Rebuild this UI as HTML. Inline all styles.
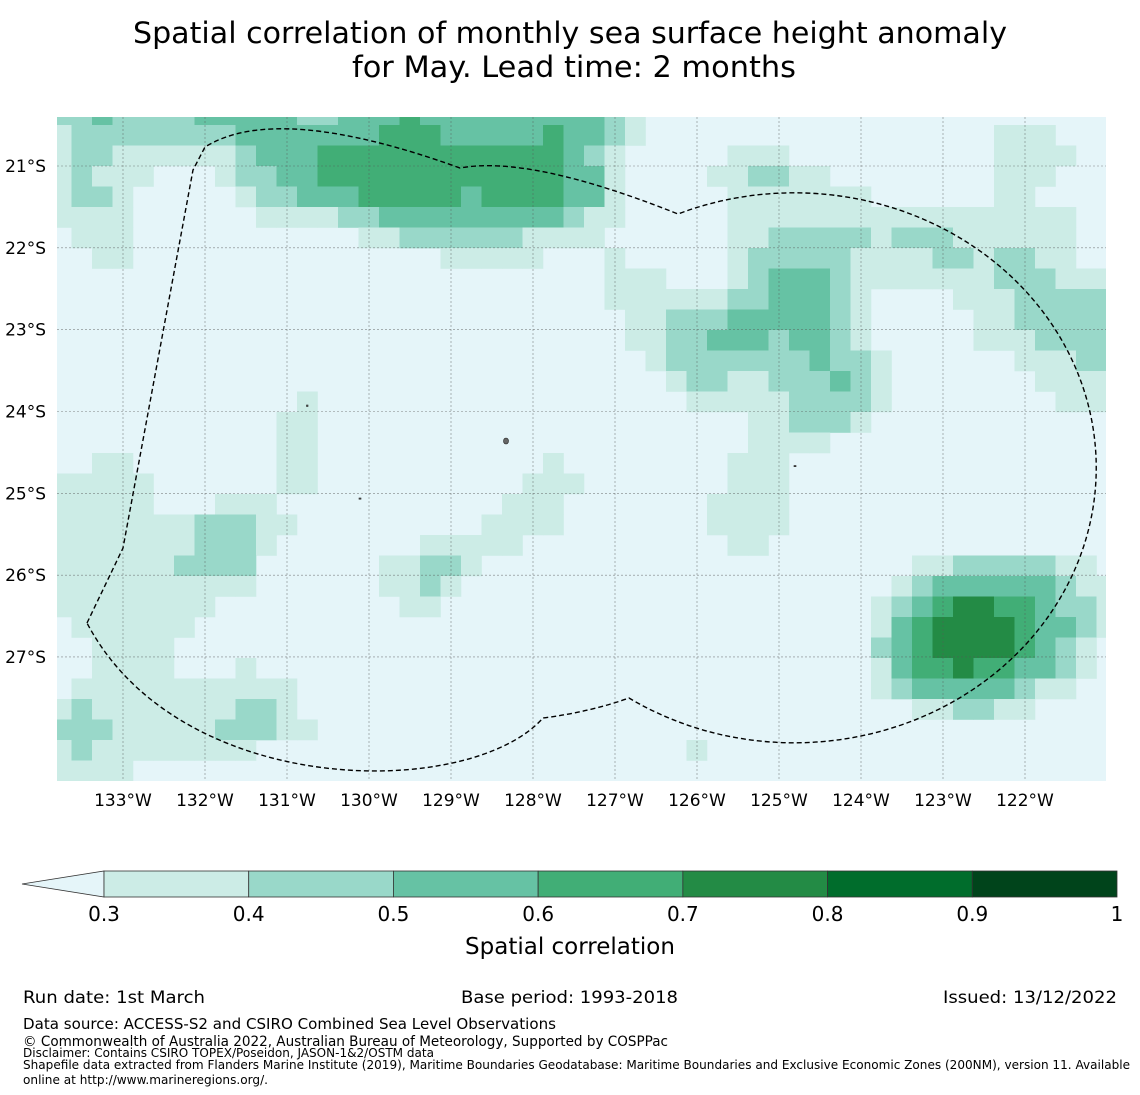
<!DOCTYPE html>
<html><head><meta charset="utf-8">
<style>
html,body{margin:0;padding:0;background:#fff;}
svg{display:block;font-family:"DejaVu Sans","Liberation Sans",sans-serif;}
</style></head>
<body>
<svg id="chart" width="1140" height="1095" viewBox="0 0 1140 1095" xmlns="http://www.w3.org/2000/svg">
  <defs><clipPath id="mapclip"><rect x="57" y="117" width="1049" height="664"/></clipPath></defs>
  <g>
    <text x="570" y="43" text-anchor="middle" font-size="29" textLength="874" lengthAdjust="spacingAndGlyphs">Spatial correlation of monthly sea surface height anomaly</text>
    <text x="574" y="77" text-anchor="middle" font-size="29" textLength="444" lengthAdjust="spacingAndGlyphs">for May. Lead time: 2 months</text>
  </g>
  <g id="cells" clip-path="url(#mapclip)"></g>
  <g id="grid" clip-path="url(#mapclip)"></g>
  <path clip-path="url(#mapclip)" d="M87,623 L123,548 L193,170 L205,147 Q277,102 460,168 Q530,155 678,214 A302,275 0 1 1 629,698 Q590,712 543,718 C470,800 180,800 87,623 Z" fill="none" stroke="#000" stroke-width="1.4" stroke-dasharray="5,3"/>
  <g fill="#666" stroke="#222" stroke-width="0.6">
    <ellipse cx="506" cy="441" rx="2.5" ry="3"/>
    <rect x="306.5" y="405" width="1.5" height="1.5"/>
    <rect x="359" y="498" width="2" height="1.2"/>
    <rect x="794" y="465.5" width="2" height="1.2"/>
  </g>
  <g id="xticks" font-size="17"></g>
  <g id="yticks" font-size="17"></g>
  <g id="cbar"></g>
  <text x="570" y="954" text-anchor="middle" font-size="23">Spatial correlation</text>
  <g fill="#000">
    <text x="23" y="1003" font-size="17" textLength="182" lengthAdjust="spacingAndGlyphs">Run date: 1st March</text>
    <text x="461" y="1003" font-size="17" textLength="217" lengthAdjust="spacingAndGlyphs">Base period: 1993-2018</text>
    <text x="1117" y="1003" font-size="17" text-anchor="end" textLength="174" lengthAdjust="spacingAndGlyphs">Issued: 13/12/2022</text>
    <text x="23" y="1029" font-size="15" textLength="533" lengthAdjust="spacingAndGlyphs">Data source: ACCESS-S2 and CSIRO Combined Sea Level Observations</text>
    <text x="23" y="1046" font-size="14" textLength="645" lengthAdjust="spacingAndGlyphs">© Commonwealth of Australia 2022, Australian Bureau of Meteorology, Supported by COSPPac</text>
    <text x="23" y="1057" font-size="12" textLength="411" lengthAdjust="spacingAndGlyphs">Disclaimer: Contains CSIRO TOPEX/Poseidon, JASON-1&amp;2/OSTM data</text>
    <text x="23" y="1069" font-size="12" textLength="1107" lengthAdjust="spacingAndGlyphs">Shapefile data extracted from Flanders Marine Institute (2019), Maritime Boundaries Geodatabase: Maritime Boundaries and Exclusive Economic Zones (200NM), version 11. Available</text>
    <text x="23" y="1084" font-size="12" textLength="245" lengthAdjust="spacingAndGlyphs">online at http://www.marineregions.org/.</text>
  </g>
</svg>
<script>
// correlation class per cell, run-length encoded "level:count", rows north to south, 52 columns each
const rowRuns = [
"2:2,3:1,2:4,3:5,2:2,3:3,4:1,3:9,2:1,1:1,0:23",
"1:1,2:8,3:7,4:3,3:5,4:1,3:2,2:1,1:1,0:17,1:3,0:3",
"1:1,2:2,1:6,2:1,3:3,4:12,3:1,2:1,1:1,0:5,1:3,0:10,1:4,0:2",
"1:1,2:1,1:3,0:3,1:1,2:2,3:2,4:12,3:2,1:1,0:4,1:2,2:2,1:2,0:8,1:3,0:3",
"1:1,2:2,1:1,0:5,1:1,2:2,3:3,4:5,3:1,4:4,3:2,1:1,0:5,1:7,0:6,1:2,0:4",
"1:4,0:6,1:4,2:2,3:9,2:1,1:2,0:5,1:17,0:2",
"0:1,1:3,0:11,1:2,2:6,1:4,0:6,1:2,2:5,1:1,2:3,1:6,0:2",
"0:2,1:2,0:15,1:5,0:3,1:1,0:5,1:1,2:5,1:4,2:2,1:1,2:2,1:2,0:2",
"0:27,1:3,0:3,1:1,2:1,3:3,2:1,1:7,2:3,1:3",
"0:27,1:6,2:2,3:3,2:1,1:1,0:4,1:3,2:5",
"0:28,1:2,2:3,3:5,2:1,1:1,0:5,1:2,2:5",
"0:28,1:2,2:2,3:3,2:1,3:2,2:1,1:1,0:5,1:3,2:4",
"0:29,1:1,2:7,3:1,2:2,1:1,0:6,1:3,2:2",
"0:30,1:1,2:2,1:2,2:3,3:1,2:1,1:1,0:7,1:4",
"0:12,1:1,0:18,1:5,2:4,1:1,0:8,1:3",
"0:11,1:2,0:21,1:2,2:3,1:1,0:12",
"0:11,1:2,0:21,1:4,0:14",
"0:2,1:2,0:7,1:2,0:11,1:1,0:8,1:3,0:16",
"1:5,0:6,1:2,0:10,1:3,0:7,1:3,0:16",
"1:5,0:3,1:3,0:11,1:3,0:7,1:4,0:16",
"1:7,2:3,1:2,0:9,1:4,0:7,1:4,0:16",
"1:7,2:3,1:1,0:7,1:5,0:10,1:2,0:17",
"1:6,2:4,0:6,1:2,2:2,1:1,0:21,1:2,2:5,1:2,0:1",
"1:10,0:6,1:2,2:1,1:1,0:21,1:1,2:1,3:6,2:1,1:2",
"1:8,0:9,1:2,0:21,1:1,2:1,3:1,4:1,5:2,4:2,3:1,2:2,1:1",
"0:1,1:6,0:33,1:1,3:1,4:1,5:4,4:1,3:2,2:1,1:1",
"0:2,1:4,0:34,2:1,3:1,4:1,5:4,4:1,3:1,2:1,1:1,0:1",
"0:2,1:4,0:3,1:1,0:30,1:1,3:1,4:2,5:1,4:2,3:2,2:1,1:1,0:1",
"0:1,1:11,0:28,1:1,2:1,3:5,2:1,1:2,0:2",
"1:1,2:1,1:7,2:2,1:1,0:30,1:2,2:2,1:2,0:4",
"2:3,1:5,2:3,1:2,0:39",
"1:1,2:1,1:8,0:21,1:1,0:20",
"1:4,0:48"
];
const levelValues = [0.2, 0.35, 0.45, 0.55, 0.65, 0.75, 0.85, 0.95];
const bounds = [0.3, 0.4, 0.5, 0.6, 0.7, 0.8, 0.9, 1.0];
const cbarLabels = ["0.3","0.4","0.5","0.6","0.7","0.8","0.9","1"];
const lonTicks = [-133,-132,-131,-130,-129,-128,-127,-126,-125,-124,-123,-122];
const latTicks = [-21,-22,-23,-24,-25,-26,-27];
const colors = ["#e5f5f9","#ccece6","#99d8c9","#66c2a4","#41ae76","#238b45","#006d2c","#00441b"];

const NS = "http://www.w3.org/2000/svg";
const lonX = lon => 123 + (lon + 133) * 82;
const latY = lat => 166 + (-21 - lat) * 81.83;
const cellW = 20.5, cellH = 20.5, gx0 = 51, gy0 = 104.5;
function colorFor(v){ let i=0; while(i<bounds.length && v>=bounds[i]) i++; return colors[Math.min(i,colors.length-1)]; }
function mk(tag, attrs, parent){ const e=document.createElementNS(NS,tag); for(const k in attrs) e.setAttribute(k,attrs[k]); parent.appendChild(e); return e; }

const cells = document.getElementById('cells');
mk('rect',{x:57,y:117,width:1049,height:664,fill:colors[0]},cells);
rowRuns.forEach((row,r)=>{
  let c = 0;
  row.split(',').forEach(run=>{
    const [lvl,cnt] = run.split(':').map(Number);
    for(let k=0;k<cnt;k++,c++){
      const v = levelValues[lvl];
      if (v < bounds[0]) continue;
      const el = mk('rect',{x:gx0+c*cellW,y:gy0+r*cellH,width:cellW+0.3,height:cellH+0.3,fill:colorFor(v)},cells);
      
      
    }
  });
});

const grid = document.getElementById('grid');
const xt = document.getElementById('xticks');
lonTicks.forEach(lon=>{
  const x = lonX(lon);
  mk('line',{x1:x,y1:117,x2:x,y2:781,stroke:'#555','stroke-width':0.6,'stroke-dasharray':'2,2',opacity:0.7},grid);
  const t = mk('text',{x:x,y:806,'text-anchor':'middle'},xt);
  t.textContent = Math.abs(lon)+'°W';
  
  
});
const yt = document.getElementById('yticks');
latTicks.forEach(lat=>{
  const y = latY(lat);
  mk('line',{x1:57,y1:y,x2:1106,y2:y,stroke:'#555','stroke-width':0.6,'stroke-dasharray':'2,2',opacity:0.7},grid);
  const t = mk('text',{x:46,y:y+6,'text-anchor':'end'},yt);
  t.textContent = Math.abs(lat)+'°S';
  
  
});

const cb = document.getElementById('cbar');
const cbX0 = 104, cbX1 = 1117, cbY = 871, cbH = 26;
const cbx = v => cbX0 + (v - 0.3) / 0.7 * (cbX1 - cbX0);
const tri = mk('polygon',{points:`22,${cbY+cbH/2} ${cbX0},${cbY} ${cbX0},${cbY+cbH}`,fill:colors[0],stroke:'#333','stroke-width':0.8},cb);


for(let i=0;i<bounds.length-1;i++){
  const seg = mk('rect',{x:cbx(bounds[i]),y:cbY,width:cbx(bounds[i+1])-cbx(bounds[i]),height:cbH,fill:colors[i+1],stroke:'#333','stroke-width':0.8},cb);
  
  
}
bounds.forEach((b,i)=>{
  const t = mk('text',{x:cbx(b),y:921,'text-anchor':'middle','font-size':20},cb);
  t.textContent = cbarLabels[i];
  
  
});
</script>
</body></html>
